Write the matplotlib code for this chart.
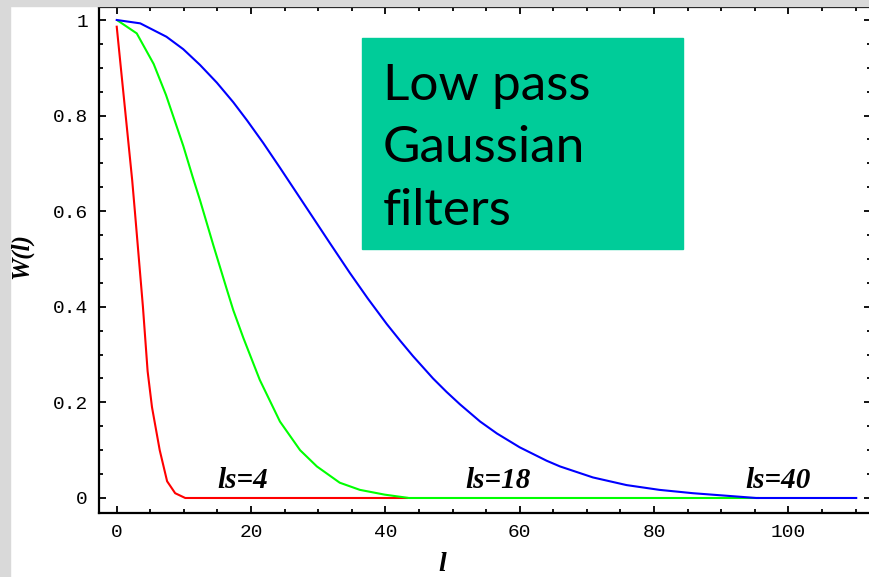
import matplotlib
matplotlib.use("Agg")
import matplotlib.pyplot as plt
import matplotlib.ticker as ticker
from matplotlib.patches import Rectangle

# values
red_l = [0, 0.6, 2.3, 2.7, 3.9, 4.6, 5.25, 6.4, 7.5, 8.7, 10.2, 43.2]
red_w = [0.986, 0.902, 0.665, 0.600, 0.400, 0.265, 0.190, 0.100, 0.035, 0.010, 0.0, 0.0]

green_l = [0.24, 2.98, 5.5, 7.34, 9.9, 11.3, 12.4, 14.4, 16.4, 17.35, 18.85, 21.3, 24.3,
           27.3, 29.8, 33.2, 36.2, 39.9, 43.5, 95.5]
green_w = [0.998, 0.972, 0.908, 0.843, 0.737, 0.672, 0.623, 0.528, 0.436, 0.393, 0.335,
           0.247, 0.160, 0.100, 0.066, 0.032, 0.017, 0.007, 0.0, 0.0]

blue_l = [0, 3.5, 7.4, 9.9, 12.4, 14.9, 17.35, 19.4, 21.8, 24.3, 26.8, 29.3, 31.7, 34.7,
          37.4, 40.2, 42.2, 44.1, 47.1, 49.1, 51.1, 54.1, 56.6, 60.0, 64.0, 66.0, 70.9,
          75.9, 80.8, 85.8, 95.2, 110.1]
blue_w = [1.0, 0.993, 0.965, 0.939, 0.906, 0.869, 0.828, 0.790, 0.743, 0.691, 0.638,
          0.585, 0.534, 0.471, 0.417, 0.364, 0.329, 0.297, 0.250, 0.222, 0.196, 0.160,
          0.135, 0.106, 0.078, 0.066, 0.043, 0.027, 0.017, 0.010, 0.0, 0.0]

labels = ["ls=4", "ls=18", "ls=40"]
label_l = [18.7, 56.7, 98.5]

W, H = 870, 577
def fx(px):
    return px / W
def fy(py):
    return 1 - py / H

fig = plt.figure(figsize=(8.7, 5.77), dpi=100, facecolor="white")

# grey strips of the marble backdrop
fig.patches.append(Rectangle((0, 0), fx(10), 1, transform=fig.transFigure,
                             color="#d9d9d9", zorder=0))
fig.patches.append(Rectangle((0, fy(6)), 1, 6 / H, transform=fig.transFigure,
                             color="#d9d9d9", zorder=0))

ax = fig.add_axes([fx(99), fy(513), fx(871) - fx(99), fy(7) - fy(513)])
ax.set_xlim(-2.64, 112.3)
ax.set_ylim(-0.0314, 1.0272)

ax.plot(red_l, red_w, color="#ff0000", lw=1.5)
ax.plot(green_l, green_w, color="#00ff00", lw=1.5)
ax.plot(blue_l, blue_w, color="#0000ff", lw=1.5)

for s in ax.spines.values():
    s.set_linewidth(1.6)

ax.xaxis.set_major_locator(ticker.MultipleLocator(20))
ax.xaxis.set_minor_locator(ticker.MultipleLocator(5))
ax.yaxis.set_major_locator(ticker.MultipleLocator(0.2))
ax.yaxis.set_minor_locator(ticker.MultipleLocator(0.05))
ax.yaxis.set_major_formatter(ticker.FuncFormatter(lambda v, p: "0" if abs(v) < 1e-9 else ("1" if abs(v - 1) < 1e-9 else "%.1f" % v)))
ax.tick_params(which="both", direction="in", top=True, right=True, width=1.3)
ax.tick_params(which="major", length=5)
ax.tick_params(which="minor", length=3)
ax.tick_params(axis="x", pad=8)
ax.tick_params(axis="y", pad=8)
for t in ax.get_xticklabels() + ax.get_yticklabels():
    t.set_fontfamily("Liberation Mono")
    t.set_fontsize(14)

for txt, l in zip(labels, label_l):
    ax.text(l, 0.021, txt, ha="center", va="baseline", fontsize=21,
            family="Liberation Serif", style="italic", weight="bold")

fig.text(fx(22), fy(256), "W(l)", rotation=90, ha="center", va="center",
         fontsize=18, family="Liberation Serif", style="italic", weight="bold")
fig.text(fx(442), fy(571), "l", ha="center", va="baseline",
         fontsize=20, family="Liberation Serif", style="italic", weight="bold")

# title box
fig.patches.append(Rectangle((fx(362), fy(249)), fx(683) - fx(362), fy(38) - fy(249),
                             transform=fig.transFigure, color="#00cc99", zorder=3))
for line, base in zip(["Low pass", "Gaussian", "filters"], [100, 162, 225]):
    fig.text(fx(383), fy(base), line, ha="left", va="baseline", fontsize=37,
             family="Lato", color="black", zorder=4)

fig.savefig("out.png", dpi=100)
